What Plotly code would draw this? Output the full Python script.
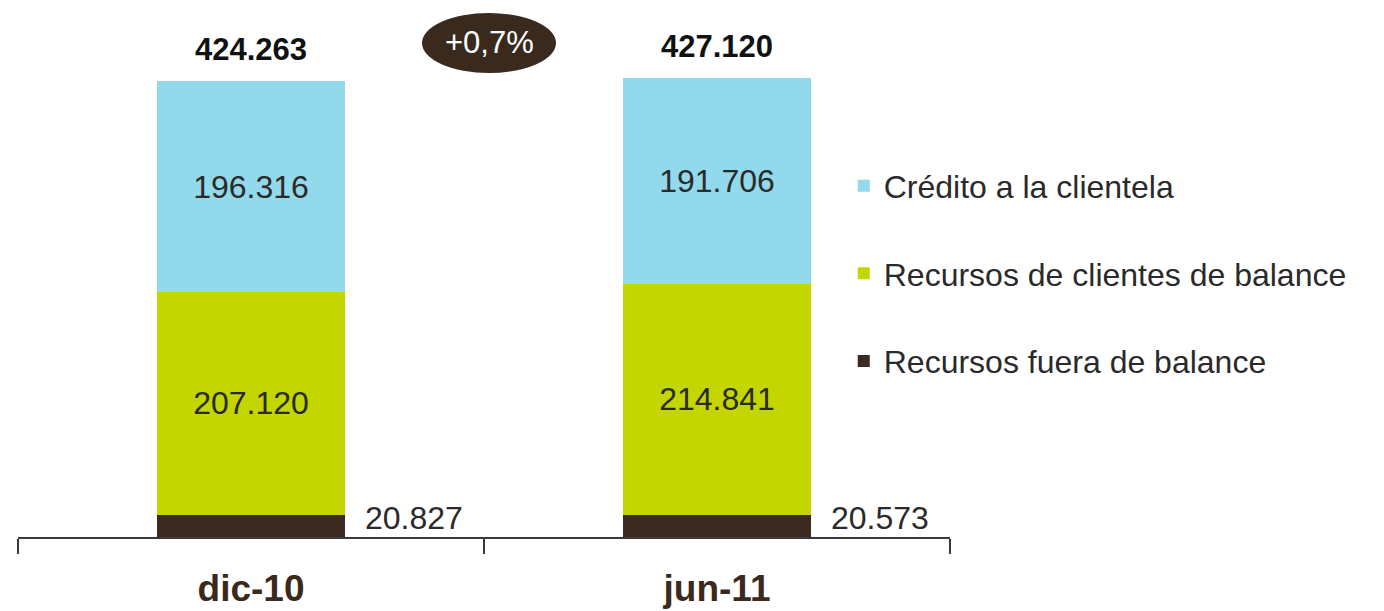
import plotly.graph_objects as go

# Periods and balance components (millones de euros)
periods = ["dic-10", "jun-11"]
fuera_balance = [20827, 20573]
clientes_balance = [207120, 214841]
credito_clientela = [196316, 191706]
totals = [424263, 427120]

series_names = [
    "Recursos fuera de balance",
    "Recursos de clientes de balance",
    "Crédito a la clientela",
]
series_colors = ["#3b2a20", "#c4d600", "#92d9eb"]

FONT = "Liberation Sans, Arial, sans-serif"
TXT = "#2a2a2a"
BAR_W = 0.404


def fmt(v):
    return f"{v:,}".replace(",", ".")


fig = go.Figure()

# Bottom segment: value label sits outside, to the right of the bar
fig.add_trace(go.Bar(
    x=periods, y=fuera_balance, name=series_names[0],
    marker=dict(color=series_colors[0], line=dict(width=0)),
    width=BAR_W, legendgroup="g3", legendrank=3,
))
fig.add_trace(go.Bar(
    x=periods, y=clientes_balance, name=series_names[1],
    marker=dict(color=series_colors[1], line=dict(width=0)),
    width=BAR_W, legendgroup="g2", legendrank=2,
    text=[fmt(v) for v in clientes_balance], textposition="inside",
    insidetextanchor="middle",
    textfont=dict(family=FONT, size=32, color=TXT),
))
fig.add_trace(go.Bar(
    x=periods, y=credito_clientela, name=series_names[2],
    marker=dict(color=series_colors[2], line=dict(width=0)),
    width=BAR_W, legendgroup="g1", legendrank=1,
    text=[fmt(v) for v in credito_clientela], textposition="inside",
    insidetextanchor="middle",
    textfont=dict(family=FONT, size=32, color=TXT),
))

annotations = []
for i, p in enumerate(periods):
    # total above each stack
    annotations.append(dict(
        x=i, y=totals[i], xref="x", yref="y", text=f"<b>{fmt(totals[i])}</b>",
        showarrow=False, yanchor="bottom", yshift=12,
        font=dict(family=FONT, size=31, color="#111111"),
    ))
    # off-balance value beside the bar
    annotations.append(dict(
        x=i + BAR_W / 2, y=fuera_balance[i] / 2, xref="x", yref="y",
        text=fmt(fuera_balance[i]), showarrow=False,
        xanchor="left", yanchor="middle", xshift=18, yshift=8,
        font=dict(family=FONT, size=32, color=TXT),
    ))

growth = (totals[1] / totals[0] - 1) * 100
growth_txt = f"{growth:+.1f}%".replace(".", ",")
annotations.append(dict(
    x=0.5, y=0.92, xref="x", yref="paper", text=growth_txt, showarrow=False,
    xanchor="center", yanchor="middle", xshift=5,
    font=dict(family=FONT, size=31, color="white"),
))

fig.update_layout(
    width=1384, height=611,
    margin=dict(l=18, r=434, t=0, b=74, autoexpand=False),
    paper_bgcolor="white", plot_bgcolor="white",
    barmode="stack",
    showlegend=True,
    legend=dict(
        x=0.886, xanchor="left", y=0.705, yanchor="top",
        xref="paper", yref="paper",
        traceorder="grouped", tracegroupgap=43,
        font=dict(family=FONT, size=32, color=TXT),
        bgcolor="rgba(0,0,0,0)", itemwidth=30,
    ),
    xaxis=dict(
        type="category", range=[-0.5, 1.5],
        showline=True, linecolor="#3a3a3a", linewidth=1.5,
        ticks="outside", tickson="boundaries", ticklen=15,
        tickcolor="#3a3a3a", tickwidth=1.5,
        tickfont=dict(family=FONT, size=37, color="#3b2a1c"),
        ticklabelstandoff=18,
        tickvals=periods, ticktext=[f"<b>{p}</b>" for p in periods],
        showgrid=False, zeroline=False, fixedrange=True,
    ),
    yaxis=dict(
        range=[0, 537 / 1.0747 * 1000], visible=False,
        showgrid=False, zeroline=False,
    ),
    annotations=annotations,
    shapes=[dict(
        type="circle", xref="x", yref="paper",
        xsizemode="pixel", ysizemode="pixel",
        xanchor=0.5, yanchor=0.92,
        x0=-62, x1=72, y0=-30, y1=30,
        fillcolor="#3a2a1e", line=dict(width=0), layer="above",
    )],
)

fig.write_html("out.html")
